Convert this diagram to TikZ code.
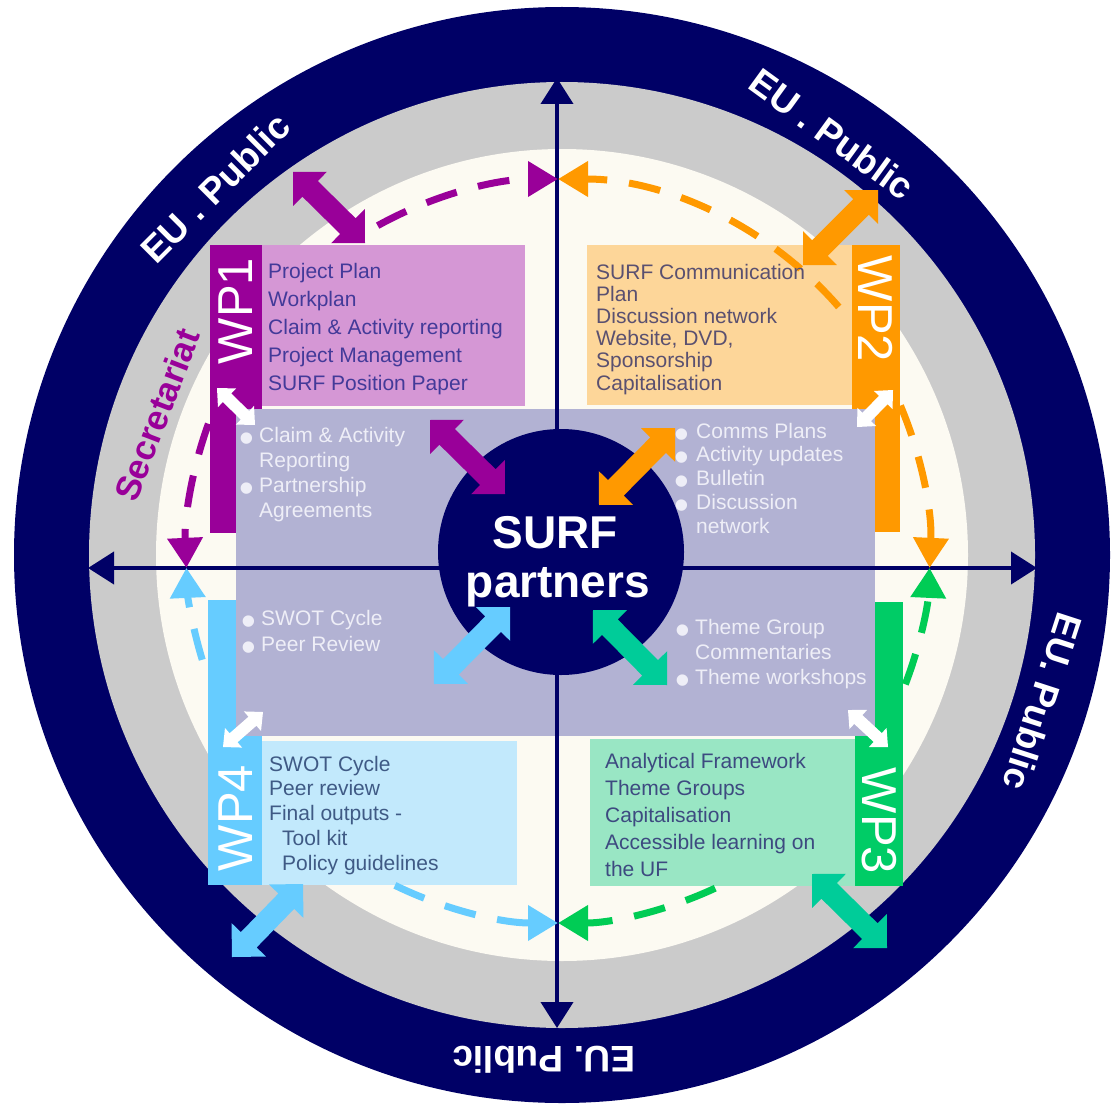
\documentclass[tikz,border=0pt]{standalone}
\usepackage{fontspec}
\setmainfont{Liberation Sans}
\usetikzlibrary{arrows.meta,calc}
\definecolor{navy}{HTML}{000066}
\definecolor{ringgray}{HTML}{CBCBCB}
\definecolor{cream}{HTML}{FCFAF2}
\definecolor{lav}{HTML}{B2B2D3}
\definecolor{lavt}{HTML}{EEEEF7}
\definecolor{wpad}{HTML}{990099}
\definecolor{wpal}{HTML}{D597D5}
\definecolor{wpat}{HTML}{433A99}
\definecolor{wpbd}{HTML}{FF9900}
\definecolor{wpbl}{HTML}{FDD699}
\definecolor{wpbt}{HTML}{5A5070}
\definecolor{wpcd}{HTML}{00CC66}
\definecolor{wpcl}{HTML}{99E6C4}
\definecolor{wpct}{HTML}{3D4A80}
\definecolor{wpdd}{HTML}{66CCFF}
\definecolor{wpdl}{HTML}{C2E9FC}
\definecolor{wpdt}{HTML}{3F5A85}
\definecolor{teal}{HTML}{00CC99}
\definecolor{dgreen}{HTML}{00CC55}
\newcommand\blt[1]{\makebox[#1][l]{\hspace{-4pt}\raisebox{-10pt}{\fontsize{42}{42}\selectfont\textbullet}}}
\newcommand\fatarr[6]{%
  \fill[#1] (#2) -- ($(#2)!#4!(#3)!#5!90:(#3)$) -- ($(#2)!#4!(#3)!#6!90:(#3)$)
   -- ($(#3)!#4!(#2)!#6!-90:(#2)$) -- ($(#3)!#4!(#2)!#5!-90:(#2)$) -- (#3)
   -- ($(#3)!#4!(#2)!#5!90:(#2)$) -- ($(#3)!#4!(#2)!#6!90:(#2)$)
   -- ($(#2)!#4!(#3)!#6!-90:(#3)$) -- ($(#2)!#4!(#3)!#5!-90:(#3)$) -- cycle;}
\tikzset{
 boxtext/.style={anchor=base west, inner sep=0pt, font=\fontsize{21}{25}\selectfont},
 lavtext/.style={boxtext, text=lavt},
 wplabel/.style={text=white, inner sep=0pt, font=\fontsize{49}{49}\selectfont},
 eutext/.style={text=white, inner sep=0pt, font=\bfseries\fontsize{37}{37}\selectfont},
 axisline/.style={draw=navy, line width=4pt, {Triangle[width=32pt,length=26pt]}-{Triangle[width=32pt,length=26pt]}},
 dasharc/.style={line width=7pt, dash pattern=on 32pt off 22pt, -{Triangle[width=34pt,length=30pt]}},
}
\begin{document}
\begin{tikzpicture}[x=1pt,y=-1pt]
\useasboundingbox (0,0) rectangle (1116,1105);
\fill[white] (0,0) rectangle (1116,1105);
\coordinate (C) at (562,555);
\coordinate (D) at (558,551);
% rings
\fill[navy] (C) circle[radius=548];
\fill[ringgray] (C) circle[radius=473];
\fill[cream] (C) circle[radius=406];
% WP strips and boxes
\fill[wpad] (210,245) rectangle (262,533);
\fill[wpal] (262,245) rectangle (525,406);
\fill[wpbl] (587,245) rectangle (852,405);
\fill[wpbd] (852,245) rectangle (900,532);
\fill[wpcd] (855,602) rectangle (903,886);
\fill[wpcl] (590,739) rectangle (855,886);
\fill[wpdd] (208,600) rectangle (262,885);
\fill[wpdl] (262,741) rectangle (517,885);
% central lavender area
\fill[lav] (236,409) rectangle (875,736);
% axes
\coordinate (axT) at (557,78);
\coordinate (axB) at (557,1028);
\coordinate (axL) at (88,568);
\coordinate (axR) at (1037,568);
\draw[axisline] (axT) -- (axB);
\draw[axisline] (axL) -- (axR);
% dashed arcs
\draw[dasharc, wpad] ($(D)+(-119:372)$) arc[start angle=-119, end angle=-90, radius=372];
\draw[dasharc, wpad] ($(D)+(200:372)$) arc[start angle=200, end angle=177.4, radius=372];
\draw[dasharc, wpbd] ($(D)+(-41:372)$) arc[start angle=-41, end angle=-90, radius=372];
\draw[dasharc, wpbd] ($(D)+(-23:372)$) arc[start angle=-23, end angle=2.6, radius=372];
\draw[dasharc, dgreen] ($(D)+(21:372)$) arc[start angle=21, end angle=2.6, radius=372];
\draw[dasharc, dgreen] ($(D)+(65:372)$) arc[start angle=65, end angle=90, radius=372];
\draw[dasharc, wpdd] ($(D)+(116:372)$) arc[start angle=116, end angle=90, radius=372];
\draw[dasharc, wpdd] ($(D)+(163:372)$) arc[start angle=163, end angle=177.4, radius=372];
% centre
\node[circle, fill=navy, minimum size=246pt, inner sep=0pt] (surf) at (561,552) {};
\node[anchor=base, inner sep=0pt, text=white, font=\bfseries\fontsize{46}{46}\selectfont] (surf1) at (555,548) {SURF};
\node[anchor=base, inner sep=0pt, text=white, font=\bfseries\fontsize{46}{46}\selectfont] (surf2) at (558,597) {partners};
% thick double arrows
\coordinate (pa1) at (293,172); \coordinate (pa2) at (365,243);
\coordinate (pb1) at (430,420); \coordinate (pb2) at (505,494);
\coordinate (oa1) at (803,265); \coordinate (oa2) at (878,190);
\coordinate (ob1) at (599,505); \coordinate (ob2) at (675,428);
\coordinate (ba1) at (434,684); \coordinate (ba2) at (510,607);
\coordinate (bb1) at (232,957); \coordinate (bb2) at (303,884);
\coordinate (ga1) at (593,610); \coordinate (ga2) at (667,685);
\coordinate (gb1) at (812,874); \coordinate (gb2) at (887,948);
\fatarr{wpad}{pa1}{pa2}{24pt}{24pt}{11pt}
\fatarr{wpad}{pb1}{pb2}{24pt}{24pt}{11pt}
\fatarr{wpbd}{oa1}{oa2}{24pt}{24pt}{11pt}
\fatarr{wpbd}{ob1}{ob2}{24pt}{24pt}{11pt}
\fatarr{wpdd}{ba1}{ba2}{24pt}{24pt}{11pt}
\fatarr{wpdd}{bb1}{bb2}{24pt}{24pt}{11pt}
\fatarr{teal}{ga1}{ga2}{24pt}{24pt}{11pt}
\fatarr{teal}{gb1}{gb2}{24pt}{24pt}{11pt}
% small white arrows
\coordinate (wa1) at (217,388); \coordinate (wa2) at (255,425);
\coordinate (wb1) at (857,427); \coordinate (wb2) at (893,390);
\coordinate (wc1) at (223,747); \coordinate (wc2) at (263,712);
\coordinate (wd1) at (848,710); \coordinate (wd2) at (888,747);
\fatarr{white}{wa1}{wa2}{14pt}{13pt}{6pt}
\fatarr{white}{wb1}{wb2}{14pt}{13pt}{6pt}
\fatarr{white}{wc1}{wc2}{14pt}{13pt}{6pt}
\fatarr{white}{wd1}{wd2}{14pt}{13pt}{6pt}
% WP labels
\node[wplabel, rotate=90] (wp1) at (236,311) {WP1};
\node[wplabel, rotate=-90] (wp2) at (876,309) {WP2};
\node[wplabel, rotate=-90] (wp3) at (879,821) {WP3};
\node[wplabel, rotate=90] (wp4) at (236,818) {WP4};
% box texts
\foreach \t [count=\i] in {Project Plan,Workplan,Claim \& Activity reporting,Project Management,SURF Position Paper}
  \node[boxtext, text=wpat] (wpa\i) at (268,{278+28*(\i-1)}) {\t};
\foreach \t [count=\i] in {SURF Communication,Plan,Discussion network,{Website, DVD,},Sponsorship,Capitalisation}
  \node[boxtext, text=wpbt] (wpb\i) at (596,{279+22.2*(\i-1)}) {\t};
\foreach \t [count=\i] in {Analytical Framework,Theme Groups,Capitalisation,Accessible learning on,the UF}
  \node[boxtext, text=wpct] (wpc\i) at (605,{768+27*(\i-1)}) {\t};
\foreach \t [count=\i] in {SWOT Cycle,Peer review,Final outputs -}
  \node[boxtext, text=wpdt] (wpd\i) at (269,{771+24.8*(\i-1)}) {\t};
\node[boxtext, text=wpdt] (wpd4) at (282,845.4) {Tool kit};
\node[boxtext, text=wpdt] (wpd5) at (282,870.2) {Policy guidelines};
% lavender texts
\node[lavtext] (la1) at (243,442) {\blt{16pt}Claim \& Activity};
\node[lavtext] (la2) at (259,467) {Reporting};
\node[lavtext] (la3) at (243,492) {\blt{16pt}Partnership};
\node[lavtext] (la4) at (259,517) {Agreements};
\node[lavtext] (lb1) at (678,438) {\blt{18pt}Comms Plans};
\node[lavtext] (lb2) at (678,461.75) {\blt{18pt}Activity updates};
\node[lavtext] (lb3) at (678,485.5) {\blt{18pt}Bulletin};
\node[lavtext] (lb4) at (678,509.25) {\blt{18pt}Discussion};
\node[lavtext] (lb5) at (696,533) {network};
\node[lavtext] (lc1) at (245,625) {\blt{16pt}SWOT Cycle};
\node[lavtext] (lc2) at (245,651) {\blt{16pt}Peer Review};
\node[lavtext] (ld1) at (679,634) {\blt{16pt}Theme Group};
\node[lavtext] (ld2) at (695,659) {Commentaries};
\node[lavtext] (ld3) at (679,684) {\blt{16pt}Theme workshops};
% outer ring labels
\node[eutext, rotate=45] (eu1) at (215,188) {EU . Public};
\node[eutext, rotate=-36] (eu2) at (832,134) {EU . Public};
\node[eutext, rotate=-108] (eu3) at (1043,702) {EU. Public};
\node[eutext, rotate=180] (eu4) at (544,1060) {EU. Public};
\node[text=wpad, inner sep=0pt, rotate=69, font=\bfseries\fontsize{35}{35}\selectfont] (secr) at (157,415) {Secretariat};
\end{tikzpicture}
\end{document}
